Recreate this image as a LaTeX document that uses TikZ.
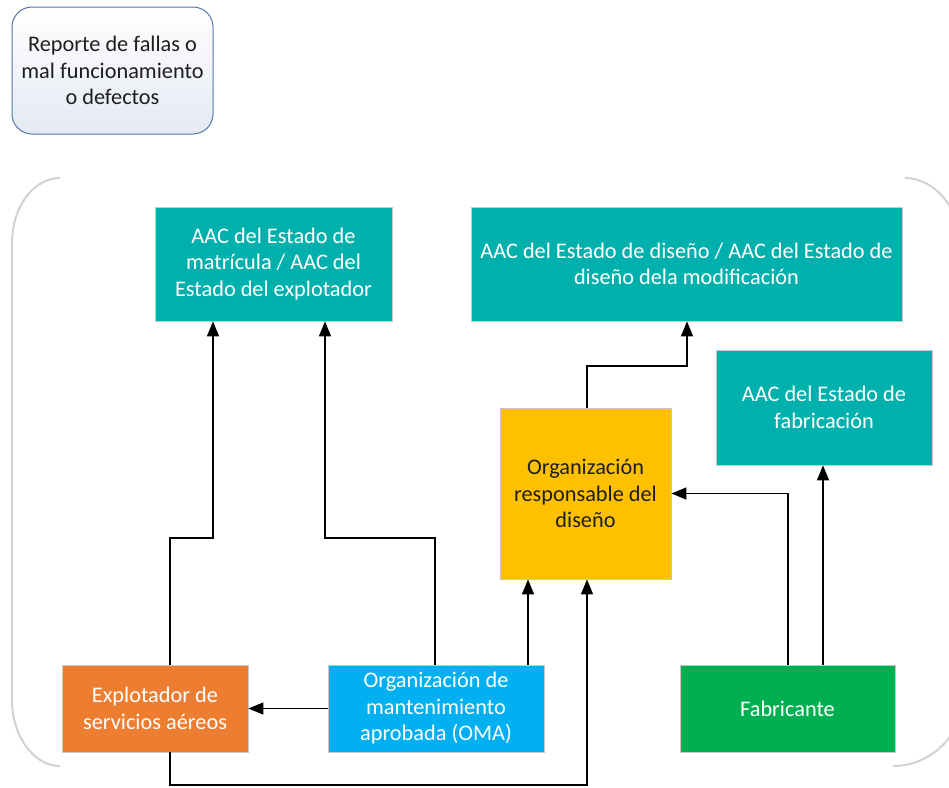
\documentclass[tikz,border=0pt]{standalone}
\usepackage{fontspec}
\setmainfont{Carlito}
\usetikzlibrary{arrows.meta}
\definecolor{teal1}{RGB}{0,176,172}
\definecolor{gold1}{RGB}{255,192,0}
\definecolor{orange1}{RGB}{237,125,49}
\definecolor{blue1}{RGB}{0,176,240}
\definecolor{green1}{RGB}{0,176,80}
\definecolor{edge1}{RGB}{200,200,200}
\definecolor{repedge}{RGB}{80,120,170}
\definecolor{repbot}{RGB}{228,233,242}
\definecolor{txtdark}{RGB}{30,30,30}
\definecolor{brk}{RGB}{210,210,210}
\tikzset{
  box/.style={rectangle, draw=edge1, line width=0.8pt, align=center, inner sep=2pt,
    font=\fontsize{22.3}{26.5}\selectfont, text=white},
  arr/.style={line width=1.5pt, -{Triangle[length=15pt,width=12pt]}},
  brack/.style={draw=brk, line width=2pt}
}
\begin{document}
\begin{tikzpicture}[x=1pt,y=-1pt]
\useasboundingbox (0,0) rectangle (949,787);
\clip (0,0) rectangle (949,787);
% report box
\node[box, draw=repedge, line width=1pt, rounded corners=20pt, text=txtdark,
  top color=white, bottom color=repbot, minimum width=201pt, minimum height=127pt]
  (rep) at (112.5,70.5) {Reporte de fallas o\\mal funcionamiento\\o defectos};
% brackets
\draw[brack] (60,178) .. controls (33.6,178) and (12,207) .. (12,243) -- (12,700)
  .. controls (12,736) and (33.6,766) .. (60,766);
\draw[brack] (905,178) .. controls (935,178) and (962,210) .. (962,250) -- (962,700)
  .. controls (962,736) and (930,766) .. (893,766);
% boxes
\node[box, fill=teal1, minimum width=237pt, minimum height=114pt] (mat) at (273.5,264)
  {AAC del Estado de\\matrícula / AAC del\\Estado del explotador};
\node[box, fill=teal1, minimum width=431pt, minimum height=114pt] (dis) at (686.5,264)
  {AAC del Estado de diseño / AAC del Estado de\\diseño dela modificación};
\node[box, fill=teal1, minimum width=216pt, minimum height=115pt] (fab) at (824,407.5)
  {AAC del Estado de\\fabricación};
\node[box, fill=gold1, text=txtdark, minimum width=171pt, minimum height=171pt] (org) at (585.5,493.5)
  {Organización\\responsable del\\diseño};
\node[box, fill=orange1, minimum width=186pt, minimum height=87pt] (exp) at (155,708.5)
  {Explotador de\\servicios aéreos};
\node[box, fill=blue1, minimum width=216pt, minimum height=87pt] (oma) at (436,708.5)
  {Organización de\\mantenimiento\\aprobada (OMA)};
\node[box, fill=green1, minimum width=215pt, minimum height=87pt] (fc) at (787.5,708.5)
  {Fabricante};
% connectors
\draw[arr] (170,0 |- exp.north) |- (213,538) -- (213,0 |- mat.south);
\draw[arr] (435,0 |- oma.north) |- (325,538) -- (325,0 |- mat.south);
\draw[arr] (528,0 |- oma.north) -- (528,0 |- org.south);
\draw[arr] (170,0 |- exp.south) |- (587,785) -- (587,0 |- org.south);
\draw[arr] (oma.west) -- (exp.east);
\draw[arr] (587,0 |- org.north) |- (687,366) -- (687,0 |- dis.south);
\draw[arr] (788,0 |- fc.north) |- (org.east);
\draw[arr] (823,0 |- fc.north) -- (823,0 |- fab.south);
\end{tikzpicture}
\end{document}
